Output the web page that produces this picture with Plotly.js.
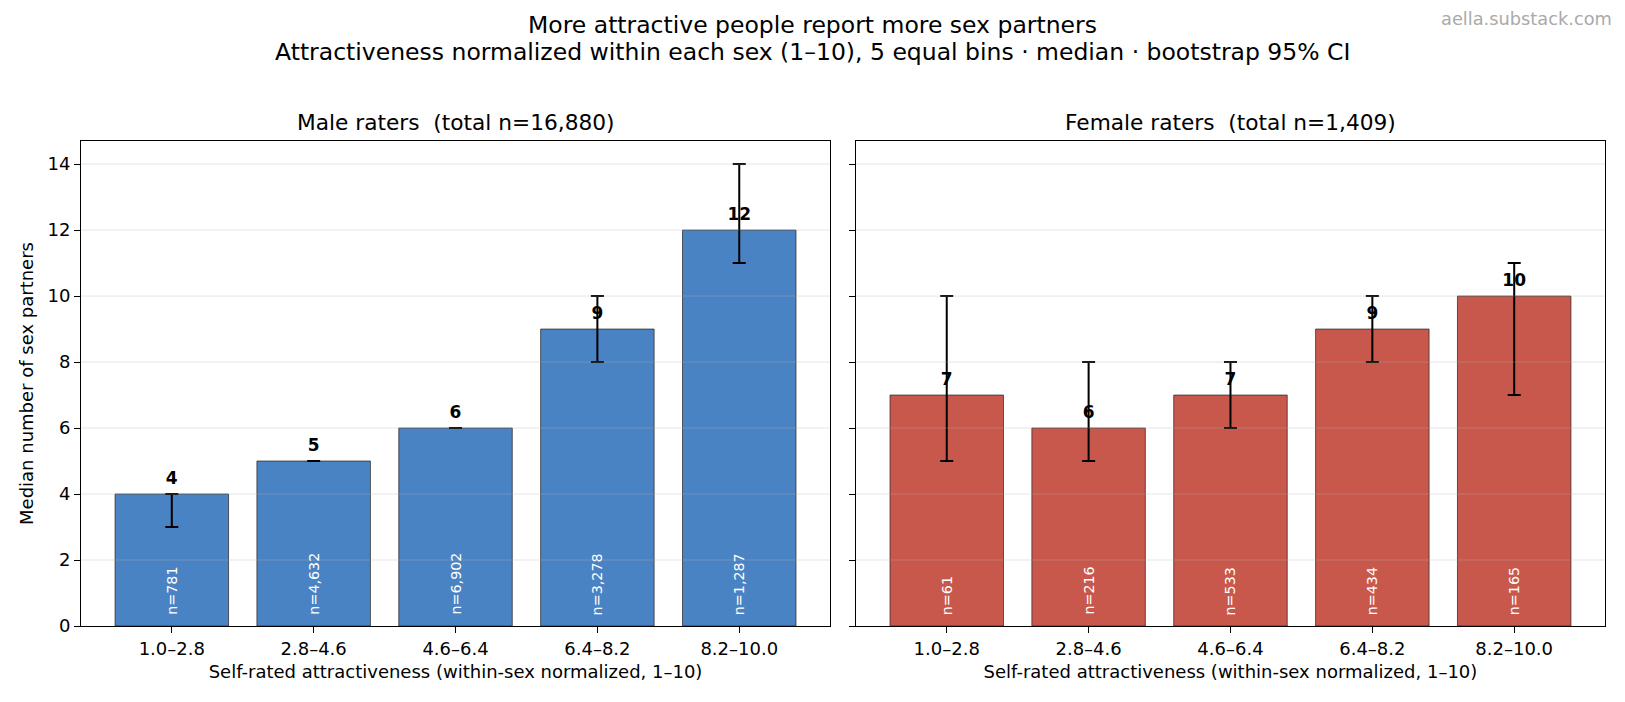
<!DOCTYPE html>
<html>
<head>
<meta charset="utf-8">
<script src="https://cdn.plot.ly/plotly-3.0.1.min.js"></script>
<style>
  html, body { margin: 0; padding: 0; background: #fff; }
  #chart { width: 1625px; height: 702px; }
</style>
</head>
<body>
<div id="chart"></div>
<script>
// ---- data ----
const bins = ["1.0–2.8", "2.8–4.6", "4.6–6.4", "6.4–8.2", "8.2–10.0"];
const maleMedian = [4, 5, 6, 9, 12];
const maleLo = [3, 5, 6, 8, 11];
const maleHi = [4, 5, 6, 10, 14];
const maleN = [781, 4632, 6902, 3278, 1287];
const maleTotal = 16880;
const femaleMedian = [7, 6, 7, 9, 10];
const femaleLo = [5, 5, 6, 8, 7];
const femaleHi = [10, 8, 8, 10, 11];
const femaleN = [61, 216, 533, 434, 165];
const femaleTotal = 1409;
const yTicks = [0, 2, 4, 6, 8, 10, 12, 14];

const FONT = "DejaVu Sans, sans-serif";
const BLUE = "#4a83c4";
const RED = "#c9584c";
const fmt = v => v.toLocaleString("en-US");

const W = 1625, H = 702;
const M = { l: 81, r: 20, t: 141, b: 76 };
const plotW = W - M.l - M.r;
const pxToPaperX = px => (px - M.l) / plotW;

function panel(med, lo, hi, color, xa, ya) {
  return [
    {
      type: "bar", x: bins, y: med, xaxis: xa, yaxis: ya, width: 0.8,
      marker: { color: color, line: { color: "#222", width: 0.7 } },
      hoverinfo: "skip", showlegend: false
    },
    {
      type: "scatter", mode: "text+markers", x: bins, y: med, xaxis: xa, yaxis: ya,
      marker: { size: 8, color: "rgba(0,0,0,0)" },
      text: med.map(v => "<b>" + v + "</b>"), textposition: "top center",
      textfont: { family: FONT, size: 17, color: "#000" },
      hoverinfo: "skip", showlegend: false
    },
    {
      type: "scatter", mode: "markers", x: bins, y: med, xaxis: xa, yaxis: ya,
      marker: { size: 1, color: "rgba(0,0,0,0)" },
      error_y: {
        type: "data", symmetric: false,
        array: hi.map((h, i) => h - med[i]),
        arrayminus: lo.map((l, i) => med[i] - l),
        color: "#000", thickness: 2, width: 6.5
      },
      hoverinfo: "skip", showlegend: false
    }
  ];
}

const data = [
  ...panel(maleMedian, maleLo, maleHi, BLUE, "x", "y"),
  ...panel(femaleMedian, femaleLo, femaleHi, RED, "x2", "y2")
];

const annotations = [];
function nLabels(ns, xa, ya) {
  ns.forEach((n, i) => annotations.push({
    x: bins[i], y: 0, xref: xa, yref: ya, text: "n=" + fmt(n),
    textangle: -90, showarrow: false, xanchor: "center", yanchor: "bottom", yshift: 9,
    font: { family: FONT, size: 14.3, color: "#fff" }
  }));
}
nLabels(maleN, "x", "y");
nLabels(femaleN, "x2", "y2");

const dom1 = [0, 0.4915], dom2 = [0.5085, 1];
annotations.push(
  { text: "More attractive people report more sex partners", xref: "paper", yref: "paper",
    x: pxToPaperX(W / 2), y: 1.2393, xanchor: "center", yanchor: "middle", showarrow: false,
    font: { family: FONT, size: 23.5, color: "#000" } },
  { text: "Attractiveness normalized within each sex (1–10), 5 equal bins · median · bootstrap 95% CI",
    xref: "paper", yref: "paper", x: pxToPaperX(W / 2), y: 1.1838, xanchor: "center", yanchor: "middle",
    showarrow: false, font: { family: FONT, size: 23.5, color: "#000" } },
  { text: "aella.substack.com", xref: "paper", yref: "paper", x: pxToPaperX(W - 10.5), y: 1.2521,
    xanchor: "right", yanchor: "middle", showarrow: false,
    font: { family: FONT, size: 17.8, color: "#aaaaaa" } },
  { text: "Male raters  (total n=" + fmt(maleTotal) + ")", xref: "paper", yref: "paper",
    x: (dom1[0] + dom1[1]) / 2, y: 1.0385, xanchor: "center", yanchor: "middle", showarrow: false,
    font: { family: FONT, size: 21.7, color: "#000" } },
  { text: "Female raters  (total n=" + fmt(femaleTotal) + ")", xref: "paper", yref: "paper",
    x: (dom2[0] + dom2[1]) / 2, y: 1.0385, xanchor: "center", yanchor: "middle", showarrow: false,
    font: { family: FONT, size: 21.7, color: "#000" } }
);

const shapes = [];
["x", "x2"].forEach((xa, k) => {
  const ya = k === 0 ? "y" : "y2";
  yTicks.slice(1).forEach(t => shapes.push({
    type: "line", xref: xa + " domain", yref: ya, x0: 0, x1: 1, y0: t, y1: t,
    layer: "above", line: { color: "rgba(176,176,176,0.33)", width: 1 }
  }));
});

const xCommon = {
  type: "category", range: [-0.64, 4.64], showline: true, mirror: true,
  linecolor: "#000", linewidth: 1, ticks: "outside", ticklen: 6, tickcolor: "#000",
  showgrid: false, zeroline: false, fixedrange: true,
  tickfont: { family: FONT, size: 18, color: "#000" },
  title: { text: "Self-rated attractiveness (within-sex normalized, 1–10)",
           font: { family: FONT, size: 18, color: "#000" }, standoff: 7 }
};
const yCommon = {
  range: [0, 14.7], tickvals: yTicks, showline: true, mirror: true,
  linecolor: "#000", linewidth: 1, ticks: "outside", ticklen: 6, tickcolor: "#000",
  showgrid: false, zeroline: false, fixedrange: true,
  tickfont: { family: FONT, size: 18, color: "#000" }
};

const layout = {
  width: W, height: H,
  margin: M,
  paper_bgcolor: "#fff", plot_bgcolor: "#fff",
  font: { family: FONT, color: "#000" },
  showlegend: false, bargap: 0.2,
  xaxis: Object.assign({}, xCommon, { domain: dom1, anchor: "y" }),
  xaxis2: Object.assign({}, xCommon, { domain: dom2, anchor: "y2" }),
  yaxis: Object.assign({}, yCommon, { anchor: "x",
    title: { text: "Median number of sex partners", font: { family: FONT, size: 18, color: "#000" }, standoff: 9 } }),
  yaxis2: Object.assign({}, yCommon, { anchor: "x2", matches: "y", showticklabels: false }),
  annotations: annotations,
  shapes: shapes
};

Plotly.newPlot("chart", data, layout, { displayModeBar: false, staticPlot: true });
</script>
</body>
</html>
